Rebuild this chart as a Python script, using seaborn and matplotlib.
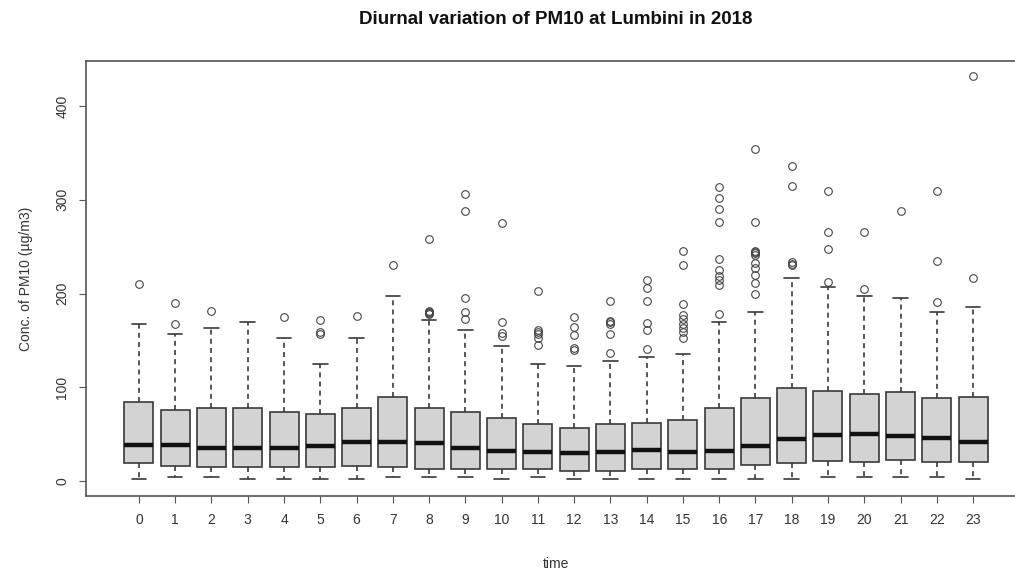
import numpy as np
import pandas as pd
import matplotlib
matplotlib.use("Agg")
import matplotlib.pyplot as plt
import seaborn as sns
from matplotlib import font_manager

# box statistics, one entry per hour
hours = list(range(24))
w_low = [2.1, 4.6, 4.6, 2.1, 2.1, 2.1, 2.1, 4.6, 4.6, 4.6, 2.1, 4.6,
         2.1, 2.1, 2.1, 2.1, 2.1, 2.1, 2.1, 4.6, 4.6, 4.6, 4.6, 2.1]
q1 = [18.8, 16.4, 14.6, 14.6, 14.6, 14.6, 16.4, 14.6, 12.4, 12.4, 12.4, 12.4,
      10.7, 10.7, 12.4, 12.4, 12.4, 17.0, 18.8, 21.7, 20.6, 22.4, 20.6, 20.6]
med = [38.4, 38.4, 35.6, 34.8, 34.8, 37.7, 42.0, 42.0, 40.2, 35.6, 32.4, 31.3,
       29.5, 31.3, 33.0, 31.3, 32.4, 37.3, 44.4, 49.1, 50.1, 48.0, 46.2, 42.0]
q3 = [84.0, 75.7, 77.5, 77.5, 73.2, 71.1, 77.5, 90.0, 77.5, 73.2, 66.8, 60.4,
      56.2, 60.4, 62.2, 65.0, 77.5, 88.2, 98.9, 96.4, 92.8, 94.6, 88.2, 90.0]
w_high = [167.5, 156.4, 163.6, 169.2, 152.5, 124.8, 152.5, 197.7, 172.0, 161.0, 144.0, 124.8,
          122.7, 128.4, 132.6, 135.5, 169.3, 180.0, 216.9, 207.0, 197.7, 194.8, 180.6, 185.3]
outliers = [
    [210],
    [168, 189.5],
    [181.7],
    [],
    [175],
    [157, 159, 171.4],
    [176],
    [230.4],
    [178, 179, 180, 181, 258.5],
    [173, 180, 194.8, 288, 306],
    [155, 157.5, 169.3, 275.6],
    [145, 153, 157, 159, 161, 203],
    [140, 142, 155.7, 164.6, 175.3],
    [137, 156.8, 168, 170, 171, 192.3],
    [140.5, 161, 168.2, 192.3, 205.5, 214.4],
    [152.2, 159.3, 162.9, 167.5, 173, 177, 188.5, 230.4, 245.3],
    [178, 209, 214.4, 218.7, 225, 236.5, 276, 290, 302.2, 314],
    [199, 211.6, 219.7, 227, 232.2, 241, 243, 244, 245, 276, 353.8],
    [230, 232, 234, 315, 336],
    [212, 247.1, 265.3, 309.7],
    [204.5, 265.3],
    [288],
    [191, 235, 309.7],
    [216.2, 432],
]

# sample per hour that gives back exactly those quartiles / whiskers / outliers
rows = []
for h in hours:
    vals = [w_low[h]] + [q1[h]] * 100 + [med[h]] * 100 + [q3[h]] * 100 + [w_high[h]] + outliers[h]
    rows += [(h, v) for v in vals]
df = pd.DataFrame(rows, columns=["time", "pm10"])

sns.set_style("white")
names = {f.name for f in font_manager.fontManager.ttflist}
fam = "Liberation Sans Narrow" if "Liberation Sans Narrow" in names else "Liberation Sans"
plt.rcParams["font.family"] = [fam, "DejaVu Sans"]

W, H = 1015, 571
fig = plt.figure(figsize=(W / 100, H / 100), dpi=100)
ax = fig.add_axes([86 / W, 1 - 496 / H, (1026 - 86) / W, (496 - 61) / H])

sns.boxplot(data=df, x="time", y="pm10", ax=ax, color="#d3d3d3", saturation=1,
            linecolor="#3a3a3a", linewidth=1.2, width=0.8,
            medianprops=dict(color="#111111", linewidth=3.2),
            whiskerprops=dict(linestyle=(0, (3, 2.5))),
            flierprops=dict(marker="o", markersize=5.5, markerfacecolor="none",
                            markeredgecolor="#444444", markeredgewidth=0.8))

ax.set_xlim(-1.46, 24.46)
ax.set_ylim(-16, 448)
ax.set_yticks([0, 100, 200, 300, 400])
ax.set_xticks(hours)
ax.set_xticklabels([str(h) for h in hours])
ax.tick_params(axis="both", direction="out", length=5, width=0.8, color="#555555",
               labelcolor="#333333", labelsize=10, pad=7, bottom=True, left=True)
for lab in ax.get_yticklabels():
    lab.set_rotation(90)
    lab.set_va("center")
for s in ax.spines.values():
    s.set_color("#555555")
    s.set_linewidth(1.2)

ax.set_xlabel("time", fontsize=10, color="#333333", labelpad=22)
ax.set_ylabel("Conc. of PM10 (\u00b5g/m3)", fontsize=10, color="#333333", labelpad=16)
fig.text(556 / W, 1 - 20 / H, "Diurnal variation of PM10 at Lumbini in 2018",
         ha="center", va="center", fontsize=13.5, fontweight="bold", color="#111111")

fig.savefig("out.png", dpi=100)
